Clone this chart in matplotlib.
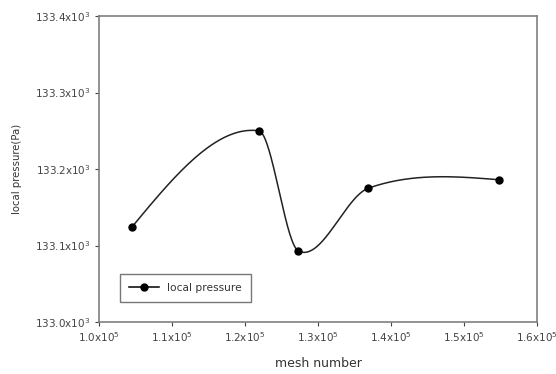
import numpy as np
import matplotlib
matplotlib.use("Agg")
import matplotlib.pyplot as plt

mesh = [1.045e5, 1.219e5, 1.273e5, 1.369e5, 1.548e5]
pressure = [133.124e3, 133.250e3, 133.093e3, 133.175e3, 133.186e3]
x_ticks = [1.0e5, 1.1e5, 1.2e5, 1.3e5, 1.4e5, 1.5e5, 1.6e5]
x_labels = [r"1.0x10$^5$", r"1.1x10$^5$", r"1.2x10$^5$", r"1.3x10$^5$",
            r"1.4x10$^5$", r"1.5x10$^5$", r"1.6x10$^5$"]
y_ticks = [133.0e3, 133.1e3, 133.2e3, 133.3e3, 133.4e3]
y_labels = [r"133.0x10$^3$", r"133.1x10$^3$", r"133.2x10$^3$",
            r"133.3x10$^3$", r"133.4x10$^3$"]


def smooth_curve(x, y, n=60):
    # cubic Hermite through the points, Catmull-Rom style tangents
    x = np.asarray(x, float)
    y = np.asarray(y, float)
    k = len(x)
    d = np.diff(y) / np.diff(x)
    m = np.zeros(k)
    for i in range(1, k - 1):
        m[i] = (y[i + 1] - y[i - 1]) / (x[i + 1] - x[i - 1])
    m[0] = (3 * d[0] - m[1]) / 2
    m[-1] = (3 * d[-1] - m[-2]) / 2
    xs_all, ys_all = [], []
    for i in range(k - 1):
        h = x[i + 1] - x[i]
        t = np.linspace(0, 1, n)
        h00 = 2 * t**3 - 3 * t**2 + 1
        h10 = t**3 - 2 * t**2 + t
        h01 = -2 * t**3 + 3 * t**2
        h11 = t**3 - t**2
        xs_all.append(x[i] + t * h)
        ys_all.append(h00 * y[i] + h10 * h * m[i] + h01 * y[i + 1] + h11 * h * m[i + 1])
    return np.concatenate(xs_all), np.concatenate(ys_all)


fig = plt.figure(figsize=(5.56, 3.74), dpi=100)
ax = fig.add_axes([0.178, 0.139, 0.788, 0.818])

xs, ys = smooth_curve(mesh, pressure)
ax.plot(xs, ys, color="#222222", lw=1.1)
ax.plot(mesh, pressure, "o", color="black", ms=5, zorder=3)
ax.plot([], [], "-o", color="black", lw=1.1, ms=5, label="local pressure")

ax.set_xlim(1.0e5, 1.6e5)
ax.set_ylim(133.0e3, 133.4e3)
ax.set_xticks(x_ticks)
ax.set_xticklabels(x_labels)
ax.set_yticks(y_ticks)
ax.set_yticklabels(y_labels)
ax.tick_params(labelsize=7.5, colors="#444444", length=3, width=0.8,
               direction="out", pad=3)
for s in ax.spines.values():
    s.set_color("#808080")
    s.set_linewidth(1.2)

ax.set_xlabel("mesh number", fontsize=9, color="#333333", labelpad=9)
ax.set_ylabel("local pressure(Pa)", fontsize=7.3, color="#333333", labelpad=10)

leg = ax.legend(loc="lower left", bbox_to_anchor=(0.04, 0.055), fontsize=7.7,
                frameon=True, fancybox=False, edgecolor="#555555",
                handlelength=2.8, borderpad=0.85, labelcolor="#333333",
                borderaxespad=0.3)
leg.get_frame().set_linewidth(1.0)

fig.savefig("out.png", dpi=100, facecolor="white")
